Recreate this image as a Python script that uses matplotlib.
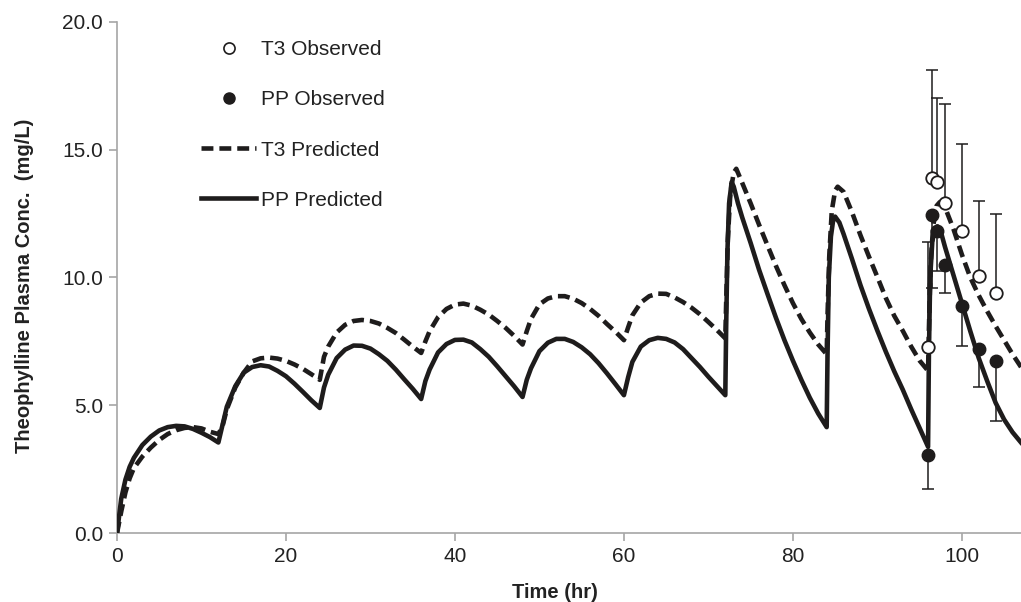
import matplotlib
matplotlib.use("Agg")
import matplotlib.pyplot as plt
from matplotlib.lines import Line2D

plt.rcParams['font.family'] = ['Liberation Sans', 'DejaVu Sans']

# ---------------- data ----------------
pp_time = [0, 0.5, 1, 1.5, 2, 3, 4, 5, 6, 7, 8, 9, 10, 11, 12,
           12.5, 13, 14, 15, 16, 17, 18, 19, 20, 21, 22, 23, 24,
           24.5, 25, 26, 27, 28, 29, 30, 31, 32, 33, 34, 35, 36,
           36.5, 37, 38, 39, 40, 41, 42, 43, 44, 45, 46, 47, 48,
           48.5, 49, 50, 51, 52, 53, 54, 55, 56, 57, 58, 59, 60,
           60.5, 61, 62, 63, 64, 65, 66, 67, 68, 69, 70, 71, 72,
           72.1, 72.25, 72.45, 72.75, 73, 73.5, 74, 75, 76, 77, 78, 79, 80, 81, 82, 83, 84,
           84.1, 84.25, 84.5, 84.75, 85, 85.5, 86, 87, 88, 89, 90, 91, 92, 93, 94, 95, 96,
           96.1, 96.25, 96.5, 96.8, 97.1, 97.5, 98, 99, 100, 101, 102, 103, 104, 105, 106, 107]
pp_pred = [0, 1.35, 2.1, 2.6, 2.95, 3.45, 3.78, 4.02, 4.15, 4.2, 4.18, 4.08, 3.93, 3.76, 3.55,
           4.25, 4.95, 5.75, 6.28, 6.5, 6.57, 6.52, 6.35, 6.14, 5.85, 5.53, 5.2, 4.9,
           5.7, 6.2, 6.85, 7.18, 7.34, 7.33, 7.22, 7.0, 6.74, 6.4, 6.02, 5.65, 5.25,
           5.95, 6.4, 7.07, 7.4, 7.56, 7.57, 7.46, 7.2, 6.9, 6.53, 6.14, 5.75, 5.33,
           6.0, 6.45, 7.12, 7.45, 7.6, 7.6, 7.48, 7.27, 7.0, 6.65, 6.25, 5.83, 5.4,
           6.1, 6.7, 7.3, 7.55, 7.64, 7.6, 7.46, 7.2, 6.85, 6.5, 6.12, 5.76, 5.4,
           8.0, 11.0, 12.9, 13.73, 13.55, 12.9, 12.35, 11.35, 10.3, 9.35, 8.42, 7.55, 6.75, 6.0, 5.3, 4.68, 4.15,
           7.0, 10.0, 11.6, 12.2, 12.38, 12.15, 11.7, 10.72, 9.7, 8.78, 7.92, 7.1, 6.33, 5.62, 4.85, 4.12, 3.38,
           7.0, 10.0, 11.4, 11.9, 12.0, 11.8, 11.2, 10.1, 9.0, 7.9, 6.85, 5.95, 5.1, 4.45, 3.95, 3.55]

t3_time = [0, 0.5, 1, 1.5, 2, 3, 4, 5, 6, 7, 8, 9, 10, 11, 12,
           12.5, 13, 14, 15, 16, 17, 18, 19, 20, 21, 22, 23, 24,
           24.5, 25, 26, 27, 28, 29, 30, 31, 32, 33, 34, 35, 36,
           36.5, 37, 38, 39, 40, 41, 42, 43, 44, 45, 46, 47, 48,
           48.5, 49, 50, 51, 52, 53, 54, 55, 56, 57, 58, 59, 60,
           60.5, 61, 62, 63, 64, 65, 66, 67, 68, 69, 70, 71, 72,
           72.1, 72.3, 72.6, 73, 73.3, 74, 75, 76, 77, 78, 79, 80, 81, 82, 83, 84,
           84.1, 84.3, 84.6, 85, 85.3, 86, 87, 88, 89, 90, 91, 92, 93, 94, 95, 96,
           96.1, 96.3, 96.6, 97, 97.4, 98, 99, 100, 101, 102, 103, 104, 105, 106, 107]
t3_pred = [0, 0.85, 1.6, 2.15, 2.55, 3.0, 3.35, 3.65, 3.88, 4.03, 4.12, 4.15, 4.1, 3.97, 3.88,
           4.2, 4.85, 5.7, 6.28, 6.72, 6.84, 6.87, 6.83, 6.74, 6.6, 6.43, 6.22, 6.0,
           6.9, 7.3, 7.85, 8.15, 8.3, 8.34, 8.3, 8.2, 8.03, 7.83, 7.57, 7.3, 7.05,
           7.5, 7.9, 8.45, 8.77, 8.94, 8.98, 8.9, 8.74, 8.55, 8.3, 8.03, 7.72, 7.38,
           7.9, 8.38, 8.95, 9.18, 9.27, 9.27, 9.17, 9.0, 8.77, 8.5, 8.18, 7.88, 7.55,
           8.05, 8.52, 9.02, 9.27, 9.37, 9.36, 9.22, 9.04, 8.82, 8.56, 8.26, 7.95, 7.62,
           9.0, 11.5, 13.3, 14.1, 14.25, 13.7, 12.9, 12.06, 11.25, 10.45, 9.7, 9.0, 8.38, 7.85, 7.38, 7.0,
           8.5, 10.8, 12.6, 13.4, 13.55, 13.35, 12.55, 11.65, 10.82, 10.02, 9.2, 8.5, 7.92, 7.3, 6.75, 6.35,
           8.0, 10.5, 12.0, 12.8, 12.95, 12.75, 11.9, 10.9, 10.0, 9.3, 8.68, 8.1, 7.55, 7.0, 6.5]

obs_time = [96, 96.5, 97, 98, 100, 102, 104]
t3_obs = [7.3, 13.9, 13.75, 12.9, 11.8, 10.05, 9.4]
t3_obs_err_up = [4.1, 4.2, 3.25, 3.9, 3.4, 2.95, 3.1]
pp_obs = [3.07, 12.44, 11.8, 10.48, 8.88, 7.19, 6.74]
pp_obs_err_down = [1.34, 2.85, 1.55, 1.1, 1.56, 1.46, 2.35]

x_ticks = [0, 20, 40, 60, 80, 100]
y_ticks = [0.0, 5.0, 10.0, 15.0, 20.0]

# ---------------- figure ----------------
W, H = 1021, 602
fig = plt.figure(figsize=(W / 100, H / 100), dpi=100)
ax = fig.add_axes([117 / W, 1 - 533.3 / H, 1 - 117 / W, (533.3 - 21.7) / H])

ink = '#1e1c1c'
gray = '#a6a6a6'

ax.plot(t3_time, t3_pred, color=ink, lw=3.3, dashes=(2.6, 1.3), zorder=3)
ax.plot(pp_time, pp_pred, color=ink, lw=3.3, zorder=3, solid_joinstyle='round')

ax.errorbar(obs_time, t3_obs, yerr=[[0] * len(t3_obs), t3_obs_err_up], fmt='none',
            ecolor=ink, elinewidth=1.1, capsize=4, capthick=1.1, zorder=4)
ax.errorbar(obs_time, pp_obs, yerr=[pp_obs_err_down, [0] * len(pp_obs)], fmt='none',
            ecolor=ink, elinewidth=1.1, capsize=4, capthick=1.1, zorder=4)
ax.plot(obs_time, t3_obs, 'o', ms=9, mfc='white', mec=ink, mew=1.3, ls='none', zorder=5)
ax.plot(obs_time, pp_obs, 'o', ms=9, mfc=ink, mec=ink, ls='none', zorder=5)

ax.set_xlim(0, 107)
ax.set_ylim(0, 20)
ax.set_xticks(x_ticks)
ax.set_yticks(y_ticks)
ax.set_yticklabels([f"{v:.1f}" for v in y_ticks])
for s in ['top', 'right']:
    ax.spines[s].set_visible(False)
for s in ['left', 'bottom']:
    ax.spines[s].set_color(gray)
    ax.spines[s].set_linewidth(1.2)
ax.tick_params(axis='both', direction='out', color=gray, width=1.2, length=6,
               labelsize=15, labelcolor='#222222', pad=4)

fig.text(555 / W, 1 - 592 / H, "Time (hr)", ha='center', va='center',
         fontsize=14.5, fontweight='bold', color='#222222')
fig.text(25 / W, 1 - 286 / H, "Theophylline Plasma Conc.  (mg/L)", ha='center', va='center',
         rotation=90, fontsize=14.5, fontweight='bold', color='#222222')

handles = [
    Line2D([], [], marker='o', ls='none', ms=8, mfc='white', mec=ink, mew=1.2),
    Line2D([], [], marker='o', ls='none', ms=8, mfc=ink, mec=ink),
    Line2D([], [], color=ink, lw=3.3, dashes=(2.6, 1.3)),
    Line2D([], [], color=ink, lw=3.3),
]
labels = ["T3 Observed", "PP Observed", "T3 Predicted", "PP Predicted"]
leg = fig.legend(handles, labels, loc='upper left', bbox_to_anchor=(201 / W, 1 - 40 / H),
                 frameon=False, fontsize=15, handlelength=2.65, handletextpad=0.25,
                 labelspacing=1.5, borderpad=0, borderaxespad=0)
for t in leg.get_texts():
    t.set_color('#222222')

fig.savefig("out.png", dpi=100)
